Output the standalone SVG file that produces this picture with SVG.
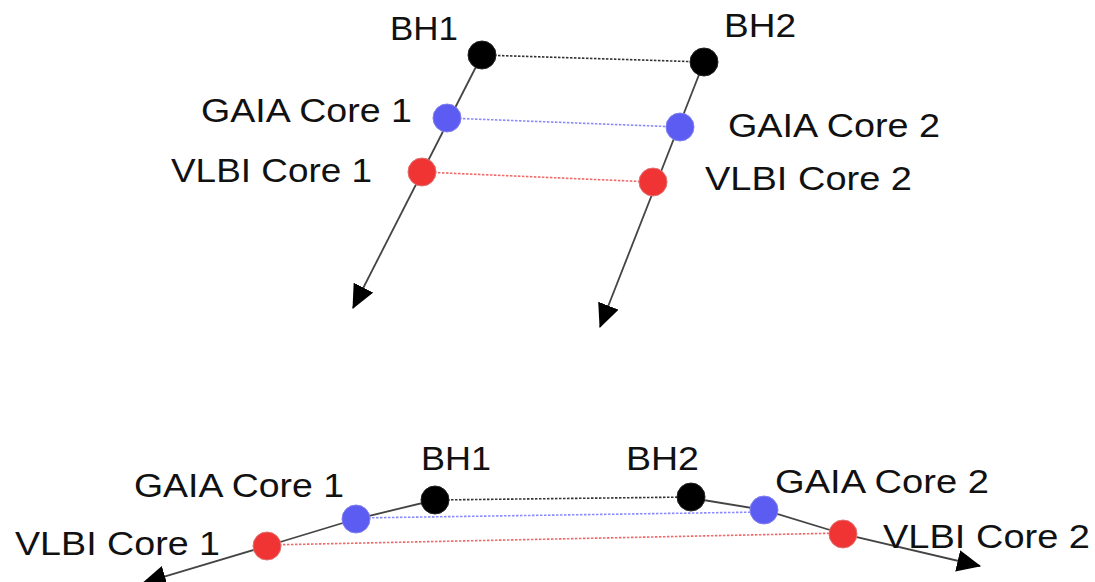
<svg xmlns="http://www.w3.org/2000/svg" width="1095" height="582" viewBox="0 0 1095 582">
<style>
.lbl{font-family:"Liberation Sans",Arial,sans-serif;font-size:33px;fill:#111;}
.axis{fill:none;stroke:#444;stroke-width:1.8;}
.dot{fill:none;stroke-width:1.6;stroke-dasharray:2.5 1.5;}
.dk{stroke:#333;}
.db{stroke:#8a8aff;}
.dr{stroke:#f06a6a;}
.bh{fill:#000;stroke:#222;stroke-width:1;}
.ga{fill:#5c5cf2;stroke:#8080f0;stroke-width:1;}
.vl{fill:#f03333;stroke:#e07070;stroke-width:1;}
</style>
<defs>
<marker id="arr" markerUnits="userSpaceOnUse" markerWidth="24" markerHeight="22" viewBox="0 0 22 20" refX="21" refY="10" orient="auto">
<path d="M0,0 L22,10 L0,20 Z" fill="#000"/>
</marker>
</defs>
<rect width="1095" height="582" fill="#fff"/>
<g id="connectors">
<line class="axis" x1="482" y1="55" x2="353" y2="308" marker-end="url(#arr)"/>
<line class="axis" x1="704" y1="62" x2="600" y2="327" marker-end="url(#arr)"/>
<line class="dot dk" x1="482" y1="55" x2="704" y2="62"/>
<line class="dot db" x1="447" y1="118" x2="680" y2="127"/>
<line class="dot dr" x1="422" y1="172" x2="653" y2="182"/>
<polyline class="axis" points="435,500 356,519 267,546 143,583" marker-end="url(#arr)"/>
<polyline class="axis" points="691,498 764,510 843,534 980,566" marker-end="url(#arr)"/>
<line class="dot dk" x1="435" y1="500" x2="691" y2="497"/>
<line class="dot db" x1="356" y1="518" x2="764" y2="512"/>
<line class="dot dr" x1="267" y1="545" x2="843" y2="533"/>
</g>
<g id="top-bh1"><circle class="bh" cx="482" cy="55" r="14"/><text class="lbl" x="390" y="40" textLength="68" lengthAdjust="spacingAndGlyphs">BH1</text></g>
<g id="top-bh2"><circle class="bh" cx="704" cy="62" r="14"/><text class="lbl" x="724" y="37" textLength="72" lengthAdjust="spacingAndGlyphs">BH2</text></g>
<g id="top-gaia1"><circle class="ga" cx="447" cy="118" r="14"/><text class="lbl" x="201" y="122" textLength="211" lengthAdjust="spacingAndGlyphs">GAIA Core 1</text></g>
<g id="top-gaia2"><circle class="ga" cx="680" cy="127" r="14"/><text class="lbl" x="728" y="137" textLength="212" lengthAdjust="spacingAndGlyphs">GAIA Core 2</text></g>
<g id="top-vlbi1"><circle class="vl" cx="422" cy="172" r="14"/><text class="lbl" x="171" y="182" textLength="201" lengthAdjust="spacingAndGlyphs">VLBI Core 1</text></g>
<g id="top-vlbi2"><circle class="vl" cx="653" cy="182" r="14"/><text class="lbl" x="705" y="190" textLength="207" lengthAdjust="spacingAndGlyphs">VLBI Core 2</text></g>
<g id="bot-bh1"><circle class="bh" cx="435" cy="500" r="14"/><text class="lbl" x="421" y="470" textLength="70" lengthAdjust="spacingAndGlyphs">BH1</text></g>
<g id="bot-bh2"><circle class="bh" cx="691" cy="497" r="14"/><text class="lbl" x="626" y="470" textLength="73" lengthAdjust="spacingAndGlyphs">BH2</text></g>
<g id="bot-gaia1"><circle class="ga" cx="356" cy="519" r="14"/><text class="lbl" x="134" y="497" textLength="210" lengthAdjust="spacingAndGlyphs">GAIA Core 1</text></g>
<g id="bot-gaia2"><circle class="ga" cx="764" cy="510" r="14"/><text class="lbl" x="775" y="493" textLength="214" lengthAdjust="spacingAndGlyphs">GAIA Core 2</text></g>
<g id="bot-vlbi1"><circle class="vl" cx="267" cy="546" r="14"/><text class="lbl" x="15" y="555" textLength="205" lengthAdjust="spacingAndGlyphs">VLBI Core 1</text></g>
<g id="bot-vlbi2"><circle class="vl" cx="843" cy="534" r="14"/><text class="lbl" x="883" y="548" textLength="207" lengthAdjust="spacingAndGlyphs">VLBI Core 2</text></g>
</svg>
